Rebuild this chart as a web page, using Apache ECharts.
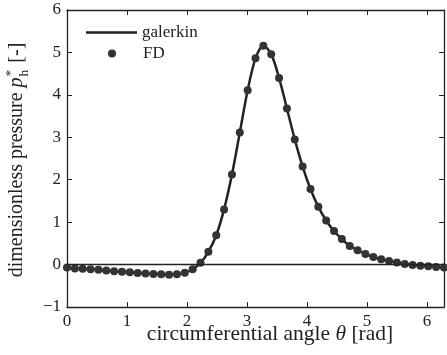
<!DOCTYPE html>
<html><head><meta charset="utf-8">
<script src="https://cdn.jsdelivr.net/npm/echarts@6/dist/echarts.min.js"></script>
<style>html,body{margin:0;padding:0;background:#fff}#c{width:447px;height:355px}</style>
</head><body><div id="c"></div>
<script>
// FD grid: 49 points over [0, 2π]
const fdCount = 49;
const fdP = [-0.07,-0.09,-0.10,-0.11,-0.12,-0.14,-0.16,-0.17,-0.18,-0.20,-0.21,-0.22,-0.23,-0.24,-0.23,-0.19,-0.11,
  0.04,0.30,0.69,1.30,2.12,3.11,4.11,4.86,5.16,4.96,4.40,3.68,2.95,2.31,1.78,1.36,1.04,0.79,0.60,0.44,0.34,0.25,0.18,
  0.125,0.085,0.05,0.015,-0.01,-0.025,-0.04,-0.055,-0.07];
const galerkinP = fdP.slice();
const xTicks = [0,1,2,3,4,5,6];
const yTicks = [-1,0,1,2,3,4,5,6];
const xLabel = 'circumferential angle ';
const yLabel = 'dimensionless pressure ';

const TWO_PI = 2*Math.PI;
const fdData = fdP.map((v,i)=>[i*TWO_PI/(fdCount-1), v]);
const galData = galerkinP.map((v,i)=>[i*TWO_PI/(fdCount-1), v]);

const serif = '"Liberation Serif","DejaVu Serif",serif';
const ink = '#222';

function measure(t, size, italic){
  const c = document.createElement('canvas').getContext('2d');
  c.font = (italic?'italic ':'') + size + 'px "Liberation Serif"';
  return c.measureText(t).width;
}

const chart = echarts.init(document.getElementById('c'), null, {renderer:'canvas'});

const axisCommon = {
  type:'value',
  axisLine:{show:true, onZero:false, lineStyle:{color:ink, width:1.3}},
  axisTick:{show:true, inside:true, length:5, lineStyle:{color:ink, width:1}},
  splitLine:{show:false},
};

// y label composition
const fs = 20, fsSmall = 13.5;
const wA = measure(yLabel, fs, false);
const wP = measure('p', fs, true);
const wH = measure('h', fsSmall, false);
const wB = measure(' [-]', fs, false);
const total = wA + wP + wH + 3 + wB;
const x0 = -total/2;

// x label
const fx = 21.5;
const wX1 = measure(xLabel, fx, false);
const wTh = measure('θ', fx, true);
const wX2 = measure(' [rad]', fx, false);
const totX = wX1 + wTh + wX2;
const xc = 270;

chart.setOption({
  animation:false,
  grid:{left:67, right:-5, top:10, bottom:48},
  legend:[
    {orient:'vertical', left:81, top:19, itemWidth:51, itemHeight:2.5, icon:'rect',
      textStyle:{fontFamily:serif, fontSize:17, color:ink},
      data:['galerkin']},
    {orient:'vertical', left:103, top:40, itemWidth:8, itemHeight:8, icon:'circle',
      textStyle:{fontFamily:serif, fontSize:17, color:ink, padding:[0,0,0,22]},
      data:['FD']}
  ],
  xAxis:[
    Object.assign({}, axisCommon, {min:0, max:TWO_PI, interval:1, position:'bottom',
      axisLabel:{show:true, margin:6, fontFamily:serif, fontSize:17, color:ink,
        formatter:v=> xTicks.includes(v)? String(v) : ''}}),
    Object.assign({}, axisCommon, {min:0, max:TWO_PI, interval:1, position:'top',
      axisLabel:{show:false}})
  ],
  yAxis:[
    Object.assign({}, axisCommon, {min:-1, max:6, interval:1, position:'left',
      axisLabel:{show:true, margin:6, fontFamily:serif, fontSize:17, color:ink,
        formatter:v=> yTicks.includes(v)? (v<0? '\u2212'+Math.abs(v) : String(v)) : ''}}),
    Object.assign({}, axisCommon, {min:-1, max:6, interval:1, position:'right',
      axisLabel:{show:false}})
  ],
  series:[
    {name:'galerkin', type:'line', data:galData, smooth:0.3, symbol:'none', showSymbol:false,
      lineStyle:{color:ink, width:2.5}, itemStyle:{color:ink}, z:3,
      markLine:{silent:true, symbol:'none', label:{show:false}, animation:false,
        lineStyle:{color:ink, width:1.4, type:'solid'}, data:[{yAxis:0}]}},
    {name:'FD', type:'scatter', data:fdData, symbol:'circle', symbolSize:8,
      itemStyle:{color:'#333', opacity:1}, z:4}
  ],
  graphic:[
    {type:'group', x:17, y:160, rotation:Math.PI/2, children:[
      {type:'text', x:x0, y:0, style:{text:yLabel, font:fs+'px '+serif, fill:ink, verticalAlign:'middle'}},
      {type:'text', x:x0+wA, y:0, style:{text:'p', font:'italic '+fs+'px '+serif, fill:ink, verticalAlign:'middle'}},
      {type:'text', x:x0+wA+wP+1, y:7, style:{text:'h', font:fsSmall+'px '+serif, fill:ink, verticalAlign:'middle'}},
      {type:'text', x:x0+wA+wP+1, y:-7, style:{text:'*', font:fsSmall+'px '+serif, fill:ink, verticalAlign:'middle'}},
      {type:'text', x:x0+wA+wP+wH+3, y:0, style:{text:' [-]', font:fs+'px '+serif, fill:ink, verticalAlign:'middle'}}
    ]},
    {type:'group', x:xc - totX/2, y:334, children:[
      {type:'text', x:0, y:0, style:{text:xLabel, font:fx+'px '+serif, fill:ink, verticalAlign:'middle'}},
      {type:'text', x:wX1, y:0, style:{text:'θ', font:'italic '+fx+'px '+serif, fill:ink, verticalAlign:'middle'}},
      {type:'text', x:wX1+wTh, y:0, style:{text:' [rad]', font:fx+'px '+serif, fill:ink, verticalAlign:'middle'}}
    ]}
  ]
});
</script></body></html>
